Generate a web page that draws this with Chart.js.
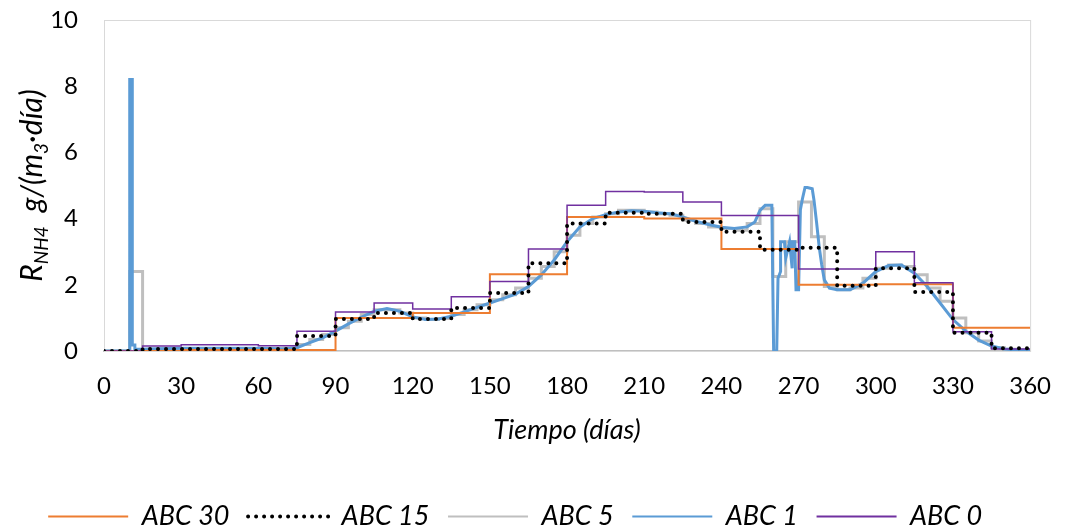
<!DOCTYPE html>
<html>
<head>
<meta charset="utf-8">
<script src="https://cdn.jsdelivr.net/npm/chart.js@4"></script>
<style>
  html, body { margin: 0; padding: 0; background: #fff; }
  #caja { width: 1072px; height: 532px; }
</style>
</head>
<body>
<div id="caja"><canvas id="grafico"></canvas></div>
<script>
// dias de inicio de cada escalon
const dias30 = [0, 30, 60, 90, 120, 150, 180, 210, 240, 270, 300, 330, 360];
const dias15 = [0, 15, 30, 45, 60, 75, 90, 105, 120, 135, 150, 165, 180, 195, 210,
    225, 240, 255, 270, 285, 300, 315, 330, 345, 360];
const dias5 = Array.from({ length: 73 }, (_, i) => i * 5);

// valores de cada escalon (g/(m3·dia))
const abc30 = [0, 0.03, 0.03, 1.0, 1.15, 2.32, 4.05, 4.0, 3.08, 2.0, 2.02, 0.7];
const abc15 = [0, 0.06, 0.06, 0.06, 0.06, 0.45, 0.97, 1.15, 0.97, 1.3, 1.75, 2.65,
    3.85, 4.18, 4.15, 3.9, 3.6, 3.06, 3.12, 1.97, 2.5, 1.78, 0.55, 0.08];
const abc5 = [0, 0, 2.4, 0.05, 0.05, 0.06, 0.07, 0.07, 0.07, 0.07, 0.07, 0.07, 0.07, 0.07, 0.08,
    0.2, 0.35, 0.5, 0.7, 0.9, 1.1, 1.25, 1.25, 1.15, 1.0, 0.95, 0.98, 1.1, 1.25, 1.4,
    1.55, 1.7, 1.9, 2.2, 2.55, 3.0, 3.5, 3.85, 4.05, 4.15, 4.25, 4.25,
    4.2, 4.15, 4.1, 3.95, 3.85, 3.75, 3.7, 3.65, 3.85, 4.3, 2.25, 3.3,
    4.5, 3.45, 1.95, 1.85, 1.9, 2.2, 2.5, 2.6, 2.55, 2.3, 1.9, 1.5,
    1.0, 0.55, 0.3, 0.1, 0.05, 0.03];
const abc0 = [0, 0.15, 0.19, 0.19, 0.16, 0.6, 1.18, 1.45, 1.27, 1.64, 2.1, 3.08,
    4.4, 4.82, 4.8, 4.5, 4.09, 4.09, 2.48, 2.48, 3.0, 2.06, 0.58, 0.06];

// ABC 1: curva casi continua
const diasAbc1 = [0, 10, 10, 11, 11, 12, 12, 15, 20, 30, 60, 70, 75, 80, 85, 90, 95, 100,
    105, 110, 115, 120, 125, 130, 135, 140, 145, 150, 155, 160, 165, 170, 175, 180, 185,
    190, 195, 200, 205, 210, 215, 220, 225, 230, 235, 240, 245, 250, 253, 255, 257, 259.6,
    260.3, 261.5, 262, 263, 263, 264.5, 265, 266.5, 266.5, 267.5, 267.5, 268.5, 269, 270,
    270.7, 271.5, 272.5, 273.4, 275.3, 276, 277, 278, 279, 280, 282, 285, 290, 295, 300,
    305, 310, 315, 320, 325, 330, 335, 340, 345, 350, 355, 360];
const abc1 = [0, 0, 8.2, 8.2, 0.18, 0.18, 0.05, 0.05, 0.07, 0.08, 0.08, 0.06, 0.1, 0.25,
    0.4, 0.6, 0.82, 1.02, 1.2, 1.28, 1.2, 1.03, 0.95, 0.97, 1.05, 1.18, 1.32, 1.45, 1.58,
    1.72, 1.95, 2.3, 2.75, 3.3, 3.75, 4.0, 4.12, 4.2, 4.24, 4.22, 4.18, 4.15, 4.05, 3.92,
    3.82, 3.74, 3.7, 3.75, 3.9, 4.25, 4.4, 4.4, 0, 0, 2.2, 2.4, 3.3, 3.3, 2.8, 3.3, 3.3,
    2.5, 3.3, 3.3, 1.85, 1.85, 4.27, 4.6, 4.94, 4.94, 4.9, 4.55, 3.88, 3.15, 2.6, 2.15,
    1.9, 1.85, 1.85, 2.05, 2.4, 2.58, 2.6, 2.35, 1.95, 1.45, 0.95, 0.6, 0.33, 0.15, 0.06,
    0.03, 0.02];

function escalones(dias, valores) {
    const pts = valores.map((v, i) => ({ x: dias[i], y: v }));
    pts.push({ x: dias[valores.length], y: valores[valores.length - 1] });
    return pts;
}

const FUENTE = "Lato";

const bordePlot = {
    id: "bordePlot",
    beforeDatasetsDraw(chart) {
        const { ctx, chartArea: a } = chart;
        ctx.save();
        ctx.strokeStyle = "#d9d9d9";
        ctx.lineWidth = 1;
        ctx.strokeRect(a.left + 0.5, a.top + 0.5, a.right - a.left, a.bottom - a.top);
        ctx.restore();
    },
};

const tituloY = {
    id: "tituloY",
    afterDraw(chart) {
        const ctx = chart.ctx;
        const partes = [
            ["R", 30, 0], ["NH4", 19, 6], ["  g/(m", 30, 0], ["3", 19, 6], ["·día)", 30, 0],
        ];
        ctx.save();
        let total = 0;
        partes.forEach(p => {
            ctx.font = `italic ${p[1]}px ${FUENTE}`;
            total += ctx.measureText(p[0]).width;
        });
        const cy = (chart.chartArea.top + chart.chartArea.bottom) / 2;
        ctx.translate(42, cy);
        ctx.rotate(-Math.PI / 2);
        ctx.fillStyle = "#000";
        ctx.textBaseline = "alphabetic";
        let x = -total / 2;
        partes.forEach(p => {
            ctx.font = `italic ${p[1]}px ${FUENTE}`;
            ctx.fillText(p[0], x, p[2]);
            x += ctx.measureText(p[0]).width;
        });
        ctx.restore();
    },
};

new Chart(document.getElementById("grafico"), {
    type: "line",
    data: {
        datasets: [
            {
                label: "ABC 30",
                data: escalones(dias30, abc30),
                borderColor: "#ED7D31",
                borderWidth: 2,
                stepped: true,
                order: 3,
            },
            {
                label: "ABC 15",
                data: escalones(dias15, abc15),
                borderColor: "#000000",
                borderWidth: 4,
                borderDash: [0, 8],
                borderCapStyle: "round",
                stepped: true,
                order: 1,
            },
            {
                label: "ABC 5",
                data: escalones(dias5, abc5),
                borderColor: "#BFBFBF",
                borderWidth: 3,
                stepped: true,
                order: 5,
            },
            {
                label: "ABC 1",
                data: diasAbc1.map((d, i) => ({ x: d, y: abc1[i] })),
                borderColor: "#5B9BD5",
                borderWidth: 3,
                order: 4,
            },
            {
                label: "ABC 0",
                data: escalones(dias15, abc0),
                borderColor: "#7030A0",
                borderWidth: 1.5,
                stepped: true,
                order: 2,
            },
        ],
    },
    options: {
        responsive: true,
        maintainAspectRatio: false,
        animation: false,
        events: [],
        elements: { point: { radius: 0 }, line: { tension: 0, fill: false } },
        layout: { padding: { top: 0, right: 29, left: 0, bottom: -8 } },
        scales: {
            x: {
                type: "linear",
                min: 0,
                max: 360,
                afterFit: s => { s.height = 146; },
                grid: { display: false, drawTicks: false },
                border: { display: true, color: "#bfbfbf", width: 2 },
                ticks: {
                    stepSize: 30,
                    padding: 21,
                    color: "#000",
                    font: { family: FUENTE, size: 24 },
                },
                title: {
                    display: true,
                    text: "Tiempo (días)",
                    color: "#000",
                    font: { family: FUENTE, size: 27, style: "italic" },
                    padding: { top: 0, bottom: 51 },
                },
            },
            y: {
                min: 0,
                max: 10,
                afterFit: s => {
                    s.width = 104;
                    s.paddingTop = 20;
                    s.paddingBottom = 0;
                },
                grid: { display: false, drawTicks: false },
                border: { display: true, color: "#d9d9d9", width: 1 },
                ticks: {
                    stepSize: 2,
                    padding: 26,
                    color: "#000",
                    font: { family: FUENTE, size: 24 },
                },
            },
        },
        plugins: {
            tooltip: { enabled: false },
            legend: {
                position: "bottom",
                labels: {
                    boxWidth: 80,
                    boxHeight: 0,
                    padding: 6,
                    color: "#000",
                    font: { family: FUENTE, size: 27, style: "italic" },
                    generateLabels(chart) {
                        const items = Chart.defaults.plugins.legend.labels.generateLabels(chart);
                        items.forEach(it => {
                            it.text = it.text + "  ";
                            it.lineWidth = it.lineDash && it.lineDash.length ? 4 : 2;
                            it.fillStyle = "rgba(0,0,0,0)";
                        });
                        return items.sort((a, b) => a.datasetIndex - b.datasetIndex);
                    },
                },
            },
        },
    },
    plugins: [bordePlot, tituloY],
});
</script>
</body>
</html>
